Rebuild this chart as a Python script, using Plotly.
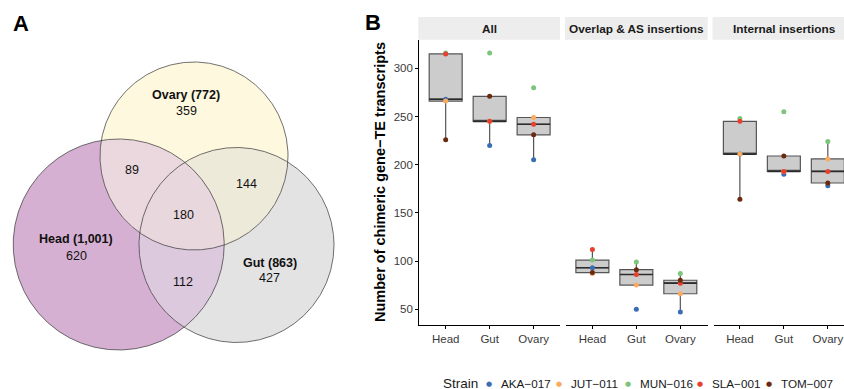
import numpy as np
import plotly.graph_objects as go

W, H = 844, 389
FONT = "Liberation Sans, Arial, Helvetica, sans-serif"

# ---------------- data ----------------
tissues = ["Head", "Gut", "Ovary"]
strains = ["AKA-017", "JUT-011", "MUN-016", "SLA-001", "TOM-007"]
strain_labels = ["AKA\u2212017", "JUT\u2212011", "MUN\u2212016", "SLA\u2212001", "TOM\u2212007"]
strain_colors = ["#3b6db4", "#fbab60", "#7dc57b", "#e8402f", "#6b2a10"]
facets = ["All", "Overlap & AS insertions", "Internal insertions"]

# per strain: [Head, Gut, Ovary]
all_counts = [[268, 220, 205], [266, 245, 249], [316, 316, 280], [315, 245, 242], [226, 271, 231]]
overlap_counts = [[93, 50, 47], [87, 75, 66], [101, 99, 87], [112, 86, 77], [88, 91, 80]]
internal_counts = [[211, 190, 178], [211, 193, 206], [248, 255, 224], [245, 193, 193], [164, 209, 181]]
facet_data = [all_counts, overlap_counts, internal_counts]

y_ticks = [50, 100, 150, 200, 250, 300]

# Venn diagram
venn_sets = ["Head", "Ovary", "Gut"]
venn_totals = ["1,001", "772", "863"]
venn_regions = ["H", "O", "G", "HO", "OG", "HG", "HOG"]
venn_counts = [620, 359, 427, 89, 144, 112, 180]

# ---------------- layout helpers ----------------
def fx(px):
    return px / W

def fy(py):
    return 1 - py / H

fig = go.Figure()

# ---------------- Venn (panel A) ----------------
circ = {"H": ((118.7, 244.5), 105.5), "O": ((194.0, 156.0), 94.0), "G": ((236.5, 245.0), 97.5)}
region_colors = {"H": "#d6b0d2", "O": "#fdf8de", "G": "#e3e3e3", "HO": "#ead8de",
                 "OG": "#eeeada", "HG": "#ddc9de", "HOG": "#e9d7de"}

def circle_pts(key, n=720):
    (cx, cy), r = circ[key]
    t = np.linspace(0, 2 * np.pi, n, endpoint=False)
    return cx + r * np.cos(t), cy + r * np.sin(t)

def inside(x, y, key):
    (cx, cy), r = circ[key]
    return (x - cx) ** 2 + (y - cy) ** 2 <= r * r + 1e-6

def region_poly(keys):
    xs, ys = [], []
    for k in keys:
        x, y = circle_pts(k, 2000)
        m = np.ones_like(x, dtype=bool)
        for o in keys:
            if o != k:
                m &= inside(x, y, o)
        xs.append(x[m]); ys.append(y[m])
    x = np.concatenate(xs); y = np.concatenate(ys)
    cx, cy = x.mean(), y.mean()
    order = np.argsort(np.arctan2(y - cy, x - cx))
    x, y = x[order], y[order]
    return np.append(x, x[0]), np.append(y, y[0])

for k in ["H", "G", "O"]:
    x, y = circle_pts(k)
    fig.add_trace(go.Scatter(x=np.append(x, x[0]), y=np.append(y, y[0]), mode="lines", fill="toself",
                             fillcolor=region_colors[k], line=dict(width=0), xaxis="x4", yaxis="y4",
                             showlegend=False, hoverinfo="skip"))
for reg in ["HO", "OG", "HG", "HOG"]:
    x, y = region_poly(list(reg))
    fig.add_trace(go.Scatter(x=x, y=y, mode="lines", fill="toself", fillcolor=region_colors[reg],
                             line=dict(width=0), xaxis="x4", yaxis="y4", showlegend=False, hoverinfo="skip"))
for k in ["H", "O", "G"]:
    x, y = circle_pts(k)
    fig.add_trace(go.Scatter(x=np.append(x, x[0]), y=np.append(y, y[0]), mode="lines",
                             line=dict(width=0.7, color="#333333"), xaxis="x4", yaxis="y4",
                             showlegend=False, hoverinfo="skip"))

annotations = []
name_pos = {"Head": (76.3, 239.3), "Ovary": (186, 95), "Gut": (269.5, 262.7)}
count_pos = {"H": (76, 256), "O": (186, 110.7), "G": (269.3, 278.3), "HO": (131.7, 170),
             "OG": (246, 184.3), "HG": (183.3, 281.7), "HOG": (183.3, 215)}
for s, tot in zip(venn_sets, venn_totals):
    px_, py_ = name_pos[s]
    annotations.append(dict(x=px_, y=py_, xref="x4", yref="y4", text=f"<b>{s} ({tot})</b>",
                            xanchor="center", yanchor="middle",
                            showarrow=False, font=dict(size=12.5, color="#111111", family=FONT)))
for reg, c in zip(venn_regions, venn_counts):
    px_, py_ = count_pos[reg]
    annotations.append(dict(x=px_, y=py_, xref="x4", yref="y4", text=str(c),
                            xanchor="center", yanchor="middle",
                            showarrow=False, font=dict(size=12.5, color="#111111", family=FONT)))

# ---------------- Boxplots (panel B) ----------------
def box_stats(vals):
    v = np.array(vals, dtype=float)
    q1, med, q3 = np.percentile(v, [25, 50, 75])
    iqr = q3 - q1
    lo = v[v >= q1 - 1.5 * iqr].min()
    hi = v[v <= q3 + 1.5 * iqr].max()
    return q1, med, q3, lo, hi

axis_ids = ["", "2", "3"]
for fi, data in enumerate(facet_data):
    stats = [box_stats([data[s][t] for s in range(len(strains))]) for t in range(len(tissues))]
    q1 = [s[0] for s in stats]; med = [s[1] for s in stats]; q3 = [s[2] for s in stats]
    lo = [s[3] for s in stats]; hi = [s[4] for s in stats]
    ax = axis_ids[fi]
    fig.add_trace(go.Box(x=tissues, q1=q1, median=med, q3=q3, lowerfence=lo, upperfence=hi,
                         xaxis="x" + ax, yaxis="y" + ax, fillcolor="#cccccc",
                         line=dict(color="#555555", width=1.2), whiskerwidth=0, width=0.75,
                         boxpoints=False, showlegend=False, hoverinfo="skip"))
    # thicker median line
    fig.add_trace(go.Box(x=tissues, q1=med, median=med, q3=med, lowerfence=med, upperfence=med,
                         xaxis="x" + ax, yaxis="y" + ax, fillcolor="rgba(0,0,0,0)",
                         line=dict(color="#2b2b2b", width=1.6), whiskerwidth=0, width=0.75,
                         boxpoints=False, showlegend=False, hoverinfo="skip"))
    for si, (s, col) in enumerate(zip(strains, strain_colors)):
        fig.add_trace(go.Scatter(x=tissues, y=data[si], mode="markers", name=s,
                                 marker=dict(color=col, size=5),
                                 xaxis="x" + ax, yaxis="y" + ax, legendgroup=s,
                                 showlegend=False))

all_vals = np.array(facet_data).ravel()
span = all_vals.max() - all_vals.min()
y_range = [all_vals.min() - 0.05 * span, all_vals.max() + 0.05 * span]

px_per_unit = (560 - 419.3) / 3.2
dom = [(419.3, 560.0), (566.0, 707.7), (713.5, W)]
panel_top, panel_bot = 40, 325

xcommon = dict(type="category", categoryorder="array", categoryarray=tissues, showline=True,
               linecolor="black", linewidth=1.1, ticks="outside", ticklen=3, tickwidth=1,
               tickcolor="black", tickfont=dict(size=11.5, color="#3a3a3a", family=FONT),
               showgrid=False, zeroline=False, fixedrange=True)
layout_axes = {}
for i, (a, b) in enumerate(dom):
    rng_hi = -0.6 + (b - a) / px_per_unit
    layout_axes["xaxis" + axis_ids[i]] = dict(xcommon, domain=[fx(a), fx(b)], range=[-0.6, rng_hi],
                                              anchor="y" + axis_ids[i])
layout_axes["yaxis"] = dict(domain=[fy(panel_bot), fy(panel_top)], range=y_range, anchor="x",
                            showline=True, linecolor="black", linewidth=1.1, ticks="outside",
                            ticklen=3, tickcolor="black", tickvals=y_ticks,
                            tickfont=dict(size=11.5, color="#3a3a3a", family=FONT),
                            showgrid=False, zeroline=False)
for i in ["2", "3"]:
    layout_axes["yaxis" + i] = dict(domain=[fy(panel_bot), fy(panel_top)], matches="y", anchor="x" + i,
                                    showline=False, showticklabels=False, ticks="",
                                    showgrid=False, zeroline=False)
layout_axes["xaxis4"] = dict(domain=[0, fx(360)], range=[0, 360], visible=False, anchor="y4")
layout_axes["yaxis4"] = dict(domain=[0, 1], range=[H, 0], visible=False, anchor="x4")

# strips
shapes = []
full_dom = [(419.3, 560.0), (566.0, 707.7), (713.5, 713.5 + 141.7)]
for i, name in enumerate(facets):
    a, b = dom[i]
    shapes.append(dict(type="rect", xref="paper", yref="paper", x0=fx(a - 1), x1=fx(b), y0=fy(39.7),
                       y1=fy(17), fillcolor="#ededed", line=dict(width=0), layer="below"))
    fa, fb = full_dom[i]
    annotations.append(dict(x=fx((fa + fb) / 2), y=fy(28.5), xref="paper", yref="paper",
                            xanchor="center", yanchor="middle",
                            text=f"<b>{name}</b>", showarrow=False,
                            font=dict(size=11.8, color="#1a1a1a", family=FONT)))

annotations.append(dict(x=fx(380), y=fy(182), xref="paper", yref="paper", textangle=-90,
                        xanchor="center", yanchor="middle",
                        text="<b>Number of chimeric gene\u2212TE transcripts</b>", showarrow=False,
                        font=dict(size=14.5, color="black", family=FONT)))
annotations.append(dict(x=fx(21), y=fy(24), xref="paper", yref="paper", text="<b>A</b>",
                        xanchor="center", yanchor="middle",
                        showarrow=False, font=dict(size=22, color="black", family=FONT)))
annotations.append(dict(x=fx(373), y=fy(22), xref="paper", yref="paper", text="<b>B</b>",
                        xanchor="center", yanchor="middle",
                        showarrow=False, font=dict(size=22, color="black", family=FONT)))

# legend (manual, ggplot-style bottom legend)
leg_y = fy(383.5)
annotations.append(dict(x=fx(441), y=leg_y, xref="paper", yref="paper", text="Strain",
                        xanchor="left", yanchor="middle", showarrow=False,
                        font=dict(size=13.5, color="#1a1a1a", family=FONT)))
dot_x = [489, 559, 628, 700, 769]
for lab, col, dx in zip(strain_labels, strain_colors, dot_x):
    annotations.append(dict(x=fx(dx), y=leg_y, xref="paper", yref="paper", text="\u25cf",
                            xanchor="center", yanchor="middle",
                            showarrow=False, font=dict(size=7, color=col, family="DejaVu Sans")))
    annotations.append(dict(x=fx(dx + 9.5), y=leg_y, xref="paper", yref="paper", text=lab,
                            xanchor="left", yanchor="middle", showarrow=False,
                            font=dict(size=11.7, color="#1a1a1a", family=FONT)))

fig.update_layout(
    width=W, height=H, margin=dict(l=0, r=0, t=0, b=0),
    paper_bgcolor="white", plot_bgcolor="white",
    font=dict(family=FONT),
    shapes=shapes, annotations=annotations,
    showlegend=False,
    **layout_axes,
)

fig.write_html("out.html", config={"displayModeBar": False, "staticPlot": True},
               post_script="document.body.style.margin='0';")
